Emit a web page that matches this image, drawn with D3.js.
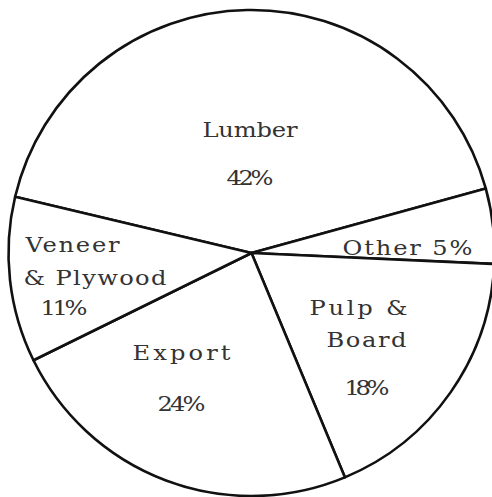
<!DOCTYPE html>
<html>
<head>
<meta charset="utf-8">
<script src="https://cdn.jsdelivr.net/npm/d3@7"></script>
<style>
  html, body { margin: 0; padding: 0; background: #fff; }
  svg { display: block; }
</style>
</head>
<body>
<svg id="chart" width="492" height="497"></svg>
<script>
// slices in clockwise order, starting from the Lumber/Veneer boundary
var categories = ["Lumber", "Other", "Pulp & Board", "Export", "Veneer & Plywood"];
var shares = [42, 5, 18, 24, 11];
var labelWords = [["Lumber"], ["Other"], ["Pulp &", "Board"], ["Export"], ["Veneer", "& Plywood"]];

// label placement relative to the pie centre: [dx, baseline dy, text length]
var labelLayout = [
    { lines: [[-49, -116, 95], [-25, -68, 47]] },
    { lines: [[91, 2, 130]], inline: true },
    { lines: [[58, 62, 98], [75, 94, 80], [93, 142, 45]] },
    { lines: [[-119, 107, 98], [-94, 158, 48]] },
    { lines: [[-226, -1, 94], [-228, 32, 143], [-211, 62, 47]] }
];

var svg = d3.select("#chart");
var cx = 251.5, cy = 253, r = 243;
var stretch = 1.15; // typewriter-like wide glyphs

var startDeg = -76.6;
var pie = d3.pie()
    .sort(null)
    .startAngle(startDeg * Math.PI / 180)
    .endAngle((startDeg + 360) * Math.PI / 180);

var arc = d3.arc().innerRadius(0).outerRadius(r);

var g = svg.append("g")
    .attr("transform", "translate(" + cx + "," + cy + ")");

g.selectAll(".slice")
    .data(pie(shares))
    .enter()
    .append("path")
    .attr("class", "slice")
    .attr("d", arc)
    .attr("fill", "white")
    .attr("stroke", "#111")
    .attr("stroke-width", 2.6)
    .attr("stroke-linejoin", "round");

// label text lines
categories.forEach(function(c, i) {
    var pct = shares[i] + "%";
    var texts = labelLayout[i].inline
        ? [labelWords[i][0] + " " + pct]
        : labelWords[i].concat([pct]);
    labelLayout[i].lines.forEach(function(l, j) {
        g.append("text")
            .attr("transform", "translate(" + l[0] + "," + l[1] + ") scale(" + stretch + ",1)")
            .attr("textLength", l[2] / stretch)
            .attr("lengthAdjust", "spacing")
            .style("font-family", "'DejaVu Serif', 'Liberation Serif', serif")
            .style("font-size", "21px")
            .style("fill", "#333")
            .text(texts[j]);
    });
});
</script>
</body>
</html>
